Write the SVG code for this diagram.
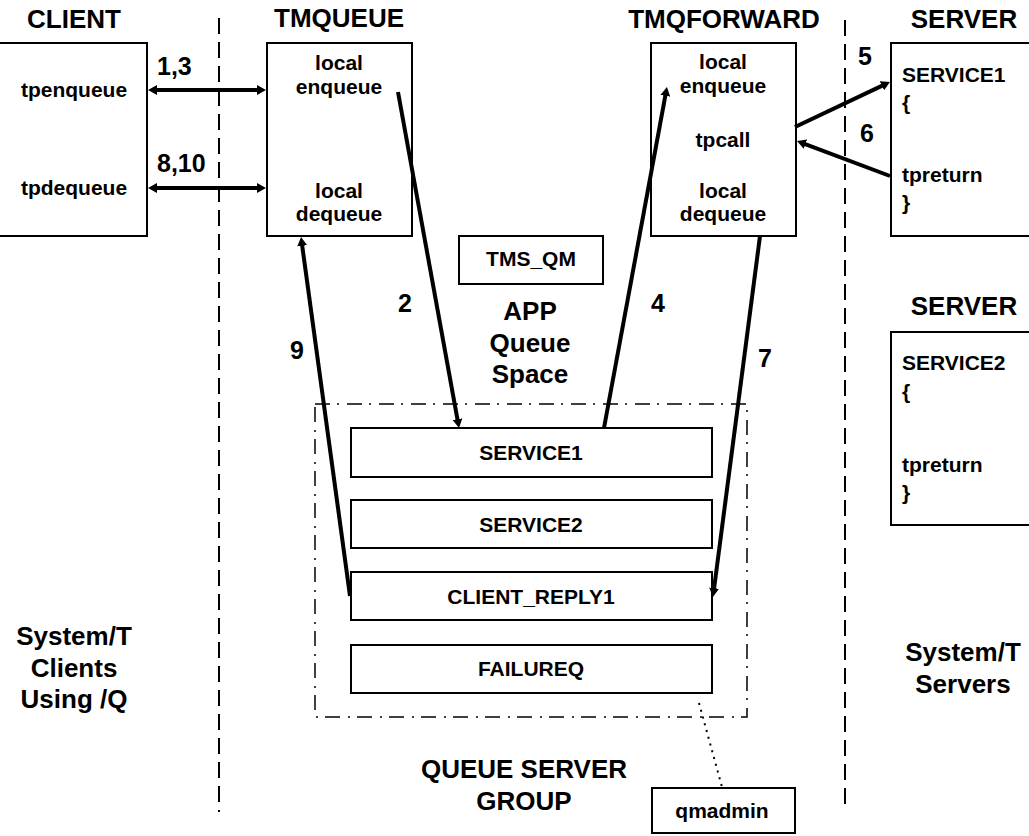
<svg xmlns="http://www.w3.org/2000/svg" width="1029" height="836" viewBox="0 0 1029 836">
<style>
text{font-family:"Liberation Sans",Arial,sans-serif;font-weight:bold;fill:#000}
.t{font-size:26px;text-anchor:middle}
.b{font-size:21px;text-anchor:middle}
.l{font-size:21px}
.n{font-size:25px}
.box{fill:#fff;stroke:#000;stroke-width:2}
.arr{stroke:#000;stroke-width:4;fill:none;marker-end:url(#ah)}
.dbl{marker-start:url(#ah)}
.sep{stroke:#000;stroke-width:2;stroke-dasharray:16 8}
</style>
<defs>
<marker id="ah" viewBox="0 0 9 10" refX="1" refY="5" markerWidth="9" markerHeight="10" markerUnits="userSpaceOnUse" orient="auto-start-reverse">
<path d="M0,0 L9,5 L0,10 z" fill="#000"/>
</marker>
</defs>
<g id="separators">
<line class="sep" x1="219" y1="18" x2="219" y2="812"/>
<line class="sep" x1="845" y1="20" x2="845" y2="812"/>
</g>
<g id="client">
<text class="t" x="74" y="28">CLIENT</text>
<rect class="box" x="-2" y="43" width="149" height="193"/>
<text class="b" x="74" y="97">tpenqueue</text>
<text class="b" x="74" y="195">tpdequeue</text>
</g>
<g id="tmqueue">
<text class="t" x="339" y="27">TMQUEUE</text>
<rect class="box" x="267" y="43" width="145" height="193"/>
<text class="b" x="339" y="70">local</text>
<text class="b" x="339" y="94">enqueue</text>
<text class="b" x="339" y="198">local</text>
<text class="b" x="339" y="221">dequeue</text>
</g>
<g id="tmqforward">
<text class="t" x="724" y="28">TMQFORWARD</text>
<rect class="box" x="651" y="43" width="145" height="193"/>
<text class="b" x="723" y="69">local</text>
<text class="b" x="723" y="93">enqueue</text>
<text class="b" x="723" y="147">tpcall</text>
<text class="b" x="723" y="198">local</text>
<text class="b" x="723" y="221">dequeue</text>
</g>
<g id="server1">
<text class="t" x="964" y="28">SERVER</text>
<rect class="box" x="891" y="43" width="150" height="193"/>
<text class="l" x="902" y="82">SERVICE1</text>
<text class="l" x="902" y="110">{</text>
<text class="l" x="902" y="182">tpreturn</text>
<text class="l" x="902" y="210">}</text>
</g>
<g id="server2">
<text class="t" x="964" y="315">SERVER</text>
<rect class="box" x="891" y="332" width="150" height="193"/>
<text class="l" x="902" y="370">SERVICE2</text>
<text class="l" x="902" y="399">{</text>
<text class="l" x="902" y="472">tpreturn</text>
<text class="l" x="902" y="500">}</text>
</g>
<g id="tms_qm">
<rect class="box" x="459" y="236" width="144" height="48"/>
<text class="b" x="531" y="266">TMS_QM</text>
</g>
<g id="app-queue-space">
<text class="t" x="530" y="320">APP</text>
<text class="t" x="530" y="352">Queue</text>
<text class="t" x="530" y="383">Space</text>
</g>
<g id="queue-server-group">
<rect x="315" y="404" width="432" height="313" fill="none" stroke="#000" stroke-width="1.5" stroke-dasharray="15 7 2 8"/>
<text class="t" x="524" y="778">QUEUE SERVER</text>
<text class="t" x="524" y="810">GROUP</text>
</g>
<g id="q-service1">
<rect class="box" x="351" y="428" width="361" height="49"/>
<text class="b" x="531" y="460">SERVICE1</text>
</g>
<g id="q-service2">
<rect class="box" x="351" y="500" width="361" height="48"/>
<text class="b" x="531" y="532">SERVICE2</text>
</g>
<g id="q-client-reply1">
<rect class="box" x="351" y="572" width="361" height="48"/>
<text class="b" x="531" y="604">CLIENT_REPLY1</text>
</g>
<g id="q-failureq">
<rect class="box" x="351" y="645" width="361" height="48"/>
<text class="b" x="531" y="676">FAILUREQ</text>
</g>
<g id="qmadmin">
<rect class="box" x="652" y="788" width="143" height="45"/>
<text class="b" x="722" y="818">qmadmin</text>
</g>
<g id="clients-note">
<text class="t" x="74" y="645">System/T</text>
<text class="t" x="74" y="677">Clients</text>
<text class="t" x="74" y="708">Using /Q</text>
</g>
<g id="servers-note">
<text class="t" x="963" y="661">System/T</text>
<text class="t" x="963" y="693">Servers</text>
</g>
<g id="connectors">
<line class="arr dbl" x1="156" y1="90" x2="258" y2="90"/>
<line class="arr dbl" x1="156" y1="188" x2="258" y2="188"/>
<line class="arr" x1="398" y1="92" x2="457.6" y2="420.1"/>
<line class="arr" x1="604" y1="428" x2="665.5" y2="94.9"/>
<line class="arr" x1="795" y1="127" x2="882.8" y2="85.4"/>
<line class="arr" x1="890" y1="176" x2="804.5" y2="143.8"/>
<line class="arr" x1="760" y1="236" x2="714" y2="589.1"/>
<line class="arr" x1="350" y1="596" x2="302.1" y2="244.9"/>
<line x1="699" y1="703" x2="722" y2="787" stroke="#000" stroke-width="2" stroke-dasharray="2 5"/>
<text class="n" x="157" y="75">1,3</text>
<text class="n" x="157" y="172">8,10</text>
<text class="n" x="398" y="312">2</text>
<text class="n" x="651" y="312">4</text>
<text class="n" x="858" y="65">5</text>
<text class="n" x="860" y="142">6</text>
<text class="n" x="758" y="367">7</text>
<text class="n" x="290" y="359">9</text>
</g>
</svg>
